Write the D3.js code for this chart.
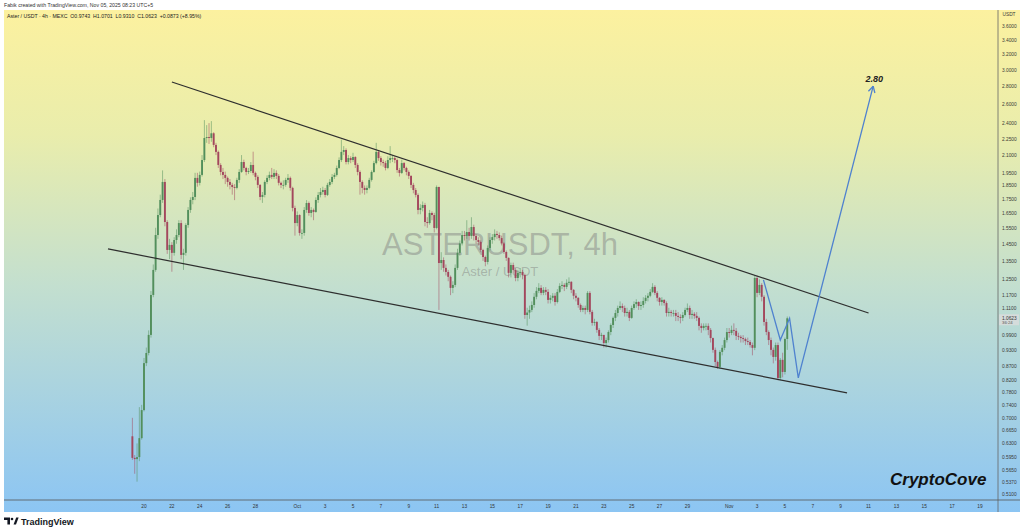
<!DOCTYPE html>
<html><head><meta charset="utf-8">
<script src="https://cdn.jsdelivr.net/npm/d3@7"></script>
<style>
body{margin:0;background:#fff;}
svg{display:block;font-family:"Liberation Sans",Arial,sans-serif;}
</style>
</head><body>
<svg id="chart" width="1024" height="528"></svg>
<script>
// ---------- DATA ----------
const firstCandleTime = "2025-09-19T04:00:00Z"; // 4h candles
const candleHours = 4;
const firstOpen = 0.649;
const closes = [
0.593,0.590,0.595,0.644,0.724,0.881,0.919,0.991,1.171,1.300,
1.504,1.635,1.741,1.877,1.588,1.413,1.443,1.396,1.473,1.504,
1.581,1.384,1.396,1.568,1.670,1.741,1.763,1.909,1.870,1.933,
2.057,2.255,2.264,2.255,2.300,2.191,2.128,2.015,1.957,1.933,
1.909,1.877,1.854,1.838,1.831,1.893,1.957,2.040,1.990,1.957,
1.965,2.015,1.949,1.917,1.854,1.763,1.778,1.877,1.909,1.933,
1.917,1.949,1.925,1.870,1.854,1.854,1.893,1.909,1.831,1.684,
1.581,1.635,1.517,1.517,1.670,1.719,1.649,1.670,1.656,1.741,
1.778,1.800,1.815,1.778,1.854,1.877,1.917,1.933,1.990,2.057,
2.128,2.145,2.040,2.074,2.057,2.083,2.015,1.957,1.877,1.831,
1.815,1.831,1.893,1.957,2.031,2.128,2.074,2.040,2.031,1.990,
2.057,2.074,2.074,2.057,1.973,1.949,2.031,1.990,1.957,1.925,
1.854,1.815,1.778,1.670,1.684,1.705,1.588,1.581,1.649,1.635,
1.549,1.838,1.338,1.355,1.311,1.289,1.263,1.206,1.221,1.311,
1.396,1.452,1.504,1.498,1.523,1.498,1.555,1.498,1.473,1.461,
1.413,1.372,1.344,1.425,1.473,1.491,1.511,1.504,1.485,1.452,
1.401,1.367,1.284,1.327,1.300,1.257,1.284,1.289,1.273,1.077,
1.088,1.100,1.123,1.162,1.191,1.206,1.181,1.196,1.186,1.147,
1.157,1.167,1.137,1.186,1.216,1.221,1.211,1.232,1.237,1.196,
1.167,1.157,1.123,1.100,1.109,1.100,1.181,1.091,1.042,1.046,
1.012,0.987,0.991,0.958,0.970,1.003,1.033,1.064,1.086,1.109,
1.118,1.109,1.086,1.091,1.064,1.109,1.127,1.137,1.118,1.123,
1.142,1.157,1.167,1.186,1.211,1.181,1.157,1.137,1.147,1.132,
1.086,1.091,1.086,1.086,1.073,1.068,1.064,1.077,1.100,1.109,
1.077,1.082,1.073,1.064,1.029,1.020,1.029,1.029,1.012,0.978,
0.931,0.885,0.867,0.923,0.939,0.970,1.003,0.999,1.012,1.008,
0.987,0.983,0.978,0.974,0.966,0.962,0.950,0.939,1.257,1.181,
1.221,1.162,1.046,1.003,0.970,0.931,0.904,0.950,0.828,0.893,
0.849,0.9743,1.0623];
const highs = [
0.701,0.60,0.63,0.733,0.74,0.90,0.94,1.01,1.19,1.33,
1.55,1.68,1.78,1.97,1.90,1.60,1.48,1.46,1.49,1.54,
1.60,1.60,1.42,1.58,1.69,1.76,1.80,1.95,1.95,1.96,
2.10,2.43,2.38,2.40,2.42,2.31,2.21,2.14,2.03,1.99,
1.96,1.92,1.90,1.87,1.86,1.91,1.98,2.10,2.06,2.00,
1.99,2.04,2.13,1.96,1.93,1.86,1.80,1.89,1.93,1.96,
1.99,1.98,1.97,1.94,1.88,1.89,1.91,1.94,1.92,1.84,
1.70,1.66,1.64,1.54,1.69,1.74,1.73,1.69,1.68,1.76,
1.80,1.83,1.84,1.83,1.87,1.90,1.94,1.95,2.01,2.08,
2.24,2.18,2.16,2.10,2.09,2.12,2.09,2.03,1.97,1.89,
1.85,1.85,1.91,1.97,2.05,2.21,2.14,2.09,2.06,2.05,
2.09,2.18,2.10,2.09,2.07,1.99,2.06,2.04,2.00,1.97,
1.93,1.87,1.83,1.79,1.71,1.73,1.72,1.62,1.67,1.66,
1.65,1.85,1.84,1.40,1.37,1.33,1.30,1.27,1.24,1.33,
1.42,1.47,1.53,1.53,1.60,1.55,1.62,1.57,1.51,1.49,
1.47,1.42,1.38,1.44,1.49,1.51,1.54,1.53,1.52,1.50,
1.46,1.41,1.37,1.34,1.34,1.31,1.30,1.31,1.30,1.28,
1.11,1.12,1.14,1.18,1.21,1.23,1.22,1.21,1.21,1.20,
1.17,1.18,1.18,1.20,1.23,1.24,1.23,1.25,1.26,1.24,
1.20,1.18,1.16,1.13,1.12,1.12,1.19,1.19,1.10,1.06,
1.05,1.02,1.00,0.99,0.98,1.01,1.04,1.07,1.10,1.12,
1.14,1.13,1.12,1.11,1.10,1.12,1.14,1.15,1.14,1.14,
1.16,1.17,1.18,1.20,1.23,1.22,1.19,1.16,1.16,1.15,
1.14,1.11,1.10,1.10,1.10,1.09,1.08,1.09,1.11,1.13,
1.12,1.10,1.09,1.09,1.07,1.04,1.04,1.04,1.04,1.02,
0.98,0.94,0.89,0.93,0.95,0.98,1.02,1.02,1.03,1.04,
1.02,1.00,0.99,0.99,0.98,0.98,0.97,0.96,1.27,1.27,
1.25,1.23,1.17,1.06,1.01,0.98,0.94,0.96,0.96,0.90,
0.92,0.98,1.0701];
const lows = [
0.588,0.555,0.537,0.585,0.64,0.72,0.87,0.91,0.98,1.16,
1.29,1.48,1.62,1.72,1.56,1.39,1.36,1.29,1.38,1.45,
1.49,1.36,1.30,1.38,1.55,1.65,1.71,1.74,1.84,1.85,
1.92,2.04,2.21,2.20,2.22,2.17,2.10,1.99,1.93,1.90,
1.86,1.84,1.82,1.78,1.74,1.82,1.87,1.95,1.97,1.93,
1.94,1.95,1.93,1.89,1.83,1.74,1.72,1.76,1.86,1.89,
1.90,1.90,1.90,1.85,1.83,1.82,1.84,1.87,1.81,1.66,
1.50,1.56,1.50,1.48,1.50,1.65,1.63,1.62,1.60,1.65,
1.72,1.76,1.78,1.76,1.77,1.84,1.86,1.90,1.92,1.98,
2.04,2.10,2.02,2.02,2.03,2.04,1.99,1.93,1.78,1.79,
1.78,1.79,1.82,1.88,1.95,2.02,2.05,2.01,2.00,1.97,
1.98,2.03,2.04,2.03,1.95,1.92,1.94,1.97,1.93,1.90,
1.83,1.79,1.76,1.64,1.64,1.66,1.56,1.55,1.57,1.60,
1.52,1.54,1.10,1.30,1.29,1.27,1.24,1.17,1.18,1.21,
1.30,1.38,1.44,1.47,1.48,1.47,1.48,1.47,1.45,1.44,
1.40,1.35,1.32,1.33,1.41,1.45,1.47,1.48,1.47,1.44,
1.39,1.35,1.26,1.26,1.28,1.24,1.24,1.26,1.25,1.06,
1.03,1.06,1.09,1.11,1.15,1.18,1.17,1.17,1.17,1.13,
1.13,1.14,1.12,1.13,1.18,1.20,1.19,1.20,1.22,1.18,
1.15,1.14,1.11,1.09,1.09,1.08,1.09,1.08,1.03,1.03,
1.00,0.97,0.97,0.94,0.94,0.96,0.99,1.02,1.05,1.07,
1.10,1.09,1.07,1.07,1.05,1.06,1.10,1.11,1.10,1.10,
1.11,1.13,1.14,1.16,1.18,1.17,1.14,1.12,1.12,1.12,
1.07,1.07,1.07,1.07,1.05,1.05,1.04,1.05,1.07,1.09,
1.06,1.06,1.06,1.05,1.01,1.00,1.01,1.01,0.99,0.96,
0.92,0.87,0.86,0.86,0.91,0.93,0.96,0.98,0.99,0.99,
0.97,0.97,0.96,0.96,0.95,0.95,0.94,0.91,0.93,1.16,
1.17,1.14,1.03,0.99,0.95,0.91,0.88,0.89,0.82,0.82,
0.83,0.84,0.931];

// right price axis labels
const priceTicks = [3.6,3.4,3.2,3.0,2.8,2.6,2.4,2.25,2.1,1.95,1.85,1.75,1.65,1.55,1.45,1.35,1.25,1.17,1.11,0.99,0.93,0.87,0.82,0.78,0.74,0.70,0.665,0.63,0.595,0.565,0.537,0.51];
// time axis labels
const timeTickDates = ["2025-09-20","2025-09-22","2025-09-24","2025-09-26","2025-09-28","2025-10-01","2025-10-03","2025-10-05","2025-10-07","2025-10-09","2025-10-11","2025-10-13","2025-10-15","2025-10-17","2025-10-19","2025-10-21","2025-10-23","2025-10-25","2025-10-27","2025-10-29","2025-11-01","2025-11-03","2025-11-05","2025-11-07","2025-11-09","2025-11-11","2025-11-13","2025-11-15","2025-11-17","2025-11-19"];
const timeTickLabels = ["20","22","24","26","28","Oct","3","5","7","9","11","13","15","17","19","21","23","25","27","29","Nov","3","5","7","9","11","13","15","17","19"];

// drawings (time, price)
const upperTrend = [["2025-09-22T00:00:00Z",2.849],["2025-11-11T00:00:00Z",1.086]];
const lowerTrend = [["2025-09-17T10:00:00Z",1.419],["2025-11-09T11:00:00Z",0.778]];
const projection = [["2025-11-03T11:00:00Z",1.247],["2025-11-04T16:00:00Z",0.970],["2025-11-05T08:00:00Z",1.062],["2025-11-05T23:00:00Z",0.828],["2025-11-11T08:00:00Z",2.80]];
const targetLabel = "2.80";
const lastPrice = 1.0623, countdown = "36:24";

// ---------- LAYOUT ----------
const svg = d3.select("#chart");
const plotL = 4, plotR = 998, plotT = 10, plotB = 500, axisB = 512, fullR = 1020;

const x = d3.scaleUtc()
  .domain([new Date("2025-09-20T00:00:00Z"), new Date("2025-11-19T00:00:00Z")])
  .range([144, 980]);
const y = d3.scaleLog().domain([0.51, 3.6]).range([494, 26]);

const defs = svg.append("defs");
const grad = defs.append("linearGradient").attr("id","bg").attr("x1",0).attr("x2",0).attr("y1",0).attr("y2",1);
grad.append("stop").attr("offset","0%").attr("stop-color","#fcf19f");
grad.append("stop").attr("offset","25%").attr("stop-color","#e9edac");
grad.append("stop").attr("offset","55%").attr("stop-color","#c3dfcf");
grad.append("stop").attr("offset","100%").attr("stop-color","#8cc5f3");
defs.append("clipPath").attr("id","plotclip").append("rect")
  .attr("x",plotL).attr("y",plotT).attr("width",plotR-plotL).attr("height",plotB-plotT);

svg.append("rect").attr("x",plotL).attr("y",plotT).attr("width",fullR-plotL).attr("height",axisB-plotT).attr("fill","url(#bg)");

// header texts
svg.append("text").attr("x",4).attr("y",7).attr("font-size",5.2).attr("fill","#333")
  .text("Fabik created with TradingView.com, Nov 05, 2025 08:23 UTC+5");
svg.append("text").attr("x",7).attr("y",17.5).attr("font-size",5.2).attr("fill","#222")
  .attr("xml:space","preserve").style("white-space","pre")
  .text("Aster / USDT · 4h · MEXC  O0.9743  H1.0701  L0.9310  C1.0623  +0.0873 (+8.95%)");

// watermark
svg.append("text").attr("x",500).attr("y",255).attr("text-anchor","middle").attr("font-size",31)
  .attr("fill","#7d7d7d").attr("fill-opacity",0.45).text("ASTERUSDT, 4h");
svg.append("text").attr("x",500).attr("y",276).attr("text-anchor","middle").attr("font-size",13)
  .attr("fill","#7d7d7d").attr("fill-opacity",0.45).text("Aster / USDT");

// candles
const t0 = new Date(firstCandleTime).getTime();
const candles = closes.map((c,i)=>({
  t: new Date(t0 + i*candleHours*3600e3),
  o: i===0 ? firstOpen : closes[i-1], h: highs[i], l: lows[i], c
}));
const gC = svg.append("g").attr("clip-path","url(#plotclip)");
const up = "#528f5c", dn = "#a3475d";
const bw = 1.9;
gC.selectAll("line.wick").data(candles).join("line").attr("class","wick")
  .attr("x1",d=>x(d.t)).attr("x2",d=>x(d.t))
  .attr("y1",d=>y(Math.max(d.h,d.o,d.c))).attr("y2",d=>y(Math.min(d.l,d.o,d.c)))
  .attr("stroke",d=>d.c>=d.o?up:dn).attr("stroke-width",0.7).attr("stroke-opacity",0.75);
gC.selectAll("rect.body").data(candles).join("rect").attr("class","body")
  .attr("x",d=>x(d.t)-bw/2).attr("width",bw)
  .attr("y",d=>y(Math.max(d.o,d.c)))
  .attr("height",d=>Math.max(0.8, y(Math.min(d.o,d.c))-y(Math.max(d.o,d.c))))
  .attr("fill",d=>d.c>=d.o?up:dn);

// trend lines
const lineGen = d3.line().x(d=>x(new Date(d[0]))).y(d=>y(d[1]));
[upperTrend, lowerTrend].forEach(tl=>{
  svg.append("path").attr("d",lineGen(tl)).attr("fill","none").attr("stroke","#2e2e2e").attr("stroke-width",1.2);
});
// projection
svg.append("path").attr("d",lineGen(projection)).attr("fill","none").attr("stroke","#4f82cf").attr("stroke-width",1.3);
// arrow head
const pA = projection[projection.length-2], pB = projection[projection.length-1];
const ax = x(new Date(pB[0])), ay = y(pB[1]);
const ang = Math.atan2(ay - y(pA[1]), ax - x(new Date(pA[0])));
[0.5,-0.5].forEach(da=>{
  svg.append("line").attr("x1",ax).attr("y1",ay)
    .attr("x2",ax - 7*Math.cos(ang+da)).attr("y2",ay - 7*Math.sin(ang+da))
    .attr("stroke","#4f82cf").attr("stroke-width",1.3);
});
svg.append("text").attr("x",ax+1).attr("y",ay-4).attr("text-anchor","middle")
  .attr("font-size",9).attr("font-weight","bold").attr("font-style","italic").attr("fill","#222").text(targetLabel);

// CryptoCove
svg.append("text").attr("x",890).attr("y",485).attr("font-size",17).attr("font-weight","bold")
  .attr("font-style","italic").attr("fill","#111").text("CryptoCove");

// axes frame
svg.append("line").attr("x1",plotR).attr("x2",plotR).attr("y1",plotT).attr("y2",axisB).attr("stroke","#666").attr("stroke-width",0.8);
svg.append("line").attr("x1",plotL).attr("x2",fullR).attr("y1",plotB).attr("y2",plotB).attr("stroke","#555").attr("stroke-width",0.8);

// right axis
const yAxis = d3.axisRight(y).tickValues(priceTicks).tickSize(0).tickPadding(4)
  .tickFormat(d=>d3.format(".4f")(d));
const gy = svg.append("g").attr("transform",`translate(${plotR},0)`).call(yAxis);
gy.select(".domain").remove();
gy.selectAll("text").attr("font-size",4.8).attr("fill","#3a3a3a").attr("font-family","Liberation Sans, Arial, sans-serif");
svg.append("text").attr("x",1009).attr("y",16).attr("text-anchor","middle").attr("font-size",4.8).attr("fill","#3a3a3a").text("USDT");
// last price label
const ly = y(lastPrice);
svg.append("rect").attr("x",plotR+1).attr("y",ly-4).attr("width",20).attr("height",11).attr("fill","#dcdcdc").attr("fill-opacity",0.8);
svg.append("text").attr("x",plotR+4).attr("y",ly+1.5).attr("font-size",4.8).attr("fill","#333").text(d3.format(".4f")(lastPrice));
svg.append("text").attr("x",plotR+4).attr("y",ly+6.2).attr("font-size",4.3).attr("fill","#555").text(countdown);

// time axis
const gx = svg.append("g");
gx.selectAll("text").data(timeTickDates).join("text")
  .attr("x",d=>x(new Date(d+"T00:00:00Z"))).attr("y",508)
  .attr("text-anchor","middle").attr("font-size",4.8).attr("fill","#333")
  .text((d,i)=>timeTickLabels[i]);

// TradingView logo
const logo = svg.append("g").attr("fill","#131722");
logo.append("path").attr("d","M4,517.5 H10 V524.5 H7.4 V520 H4 Z");
logo.append("circle").attr("cx",12).attr("cy",519).attr("r",1.3);
logo.append("path").attr("d","M13.6,524.5 L16.2,517.5 H18.6 L16,524.5 Z");
svg.append("text").attr("x",21).attr("y",524.5).attr("font-size",9).attr("font-weight","bold").attr("fill","#131722").text("TradingView");
</script>
</body></html>
